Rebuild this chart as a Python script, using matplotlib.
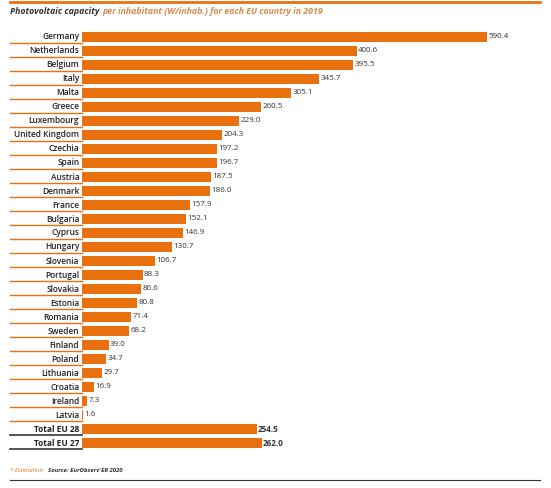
import matplotlib.pyplot as plt
from matplotlib.transforms import blended_transform_factory

countries = ["Germany", "Netherlands", "Belgium", "Italy", "Malta", "Greece", "Luxembourg",
             "United Kingdom", "Czechia", "Spain", "Austria", "Denmark", "France", "Bulgaria",
             "Cyprus", "Hungary", "Slovenia", "Portugal", "Slovakia", "Estonia", "Romania",
             "Sweden", "Finland", "Poland", "Lithuania", "Croatia", "Ireland", "Latvia",
             "Total EU 28", "Total EU 27"]
values = [590.4, 400.6, 395.5, 345.7, 305.1, 260.5, 229.0, 204.3, 197.2, 196.7, 187.5, 186.0,
          157.9, 152.1, 146.9, 130.7, 106.7, 88.3, 86.6, 80.8, 71.4, 68.2, 39.0, 34.7, 29.7,
          16.9, 7.3, 1.6, 254.5, 262.0]

orange = "#E8700F"
W, H = 551, 488
fig = plt.figure(figsize=(W / 100, H / 100), dpi=100)
plt.rcParams['font.family'] = ['Open Sans', 'DejaVu Sans']

left, right, top, bottom = 82, 540, 30, 452
ax = fig.add_axes([left / W, 1 - bottom / H, (right - left) / W, (bottom - top) / H])
n = len(countries)
pitch = (443 - 37) / (n - 1)
ax.set_ylim((bottom - 37) / pitch, (top - 37) / pitch)
ax.set_xlim(0, (right - left) / ((487 - left) / 590.4))
ax.axis("off")

ypos = list(range(n))
ax.barh(ypos, values, height=0.78, color=orange)
tr = blended_transform_factory(ax.transAxes, ax.transData)
x0 = (10 - left) / (right - left)
for i, (c, v) in enumerate(zip(countries, values)):
    total = c.startswith("Total")
    ax.text(-0.006, i, c, transform=tr, ha="right", va="center", fontsize=6,
            fontweight="bold" if total else "semibold", color="#222222")
    ax.text(v + 2, i, f"{v:.1f}", ha="left", va="center", fontsize=5.8,
            fontweight="bold" if total else "normal", color="#333333")
    ax.plot([x0, 0], [i + 0.45, i + 0.45], transform=tr, clip_on=False,
            color="#333333" if total else orange, lw=1.2 if total else 1.0)

fig.add_artist(plt.Line2D([10 / W, 540 / W], [1 - 1.5 / H, 1 - 1.5 / H], color=orange, lw=2))
fig.add_artist(plt.Line2D([10 / W, 540 / W], [1 - 480 / H, 1 - 480 / H], color="#333333", lw=0.8))
fig.text(10 / W, 1 - 11 / H, "Photovoltaic capacity", fontsize=6.3, style="italic",
         fontweight="bold", color="#333333", va="center")
fig.text(102 / W, 1 - 11 / H, "per inhabitant (W/inhab.) for each EU country in 2019", fontsize=6.3,
         style="italic", fontweight="bold", color="#D98A4A", va="center")
fig.text(10 / W, 1 - 471 / H, "* Estimation", fontsize=4.3, style="italic", color=orange, va="center")
fig.text(48 / W, 1 - 471 / H, "Source: EurObserv'ER 2020", fontsize=4.3, style="italic",
         fontweight="bold", color="#333333", va="center")

fig.savefig("out.png", dpi=100, facecolor="white")
